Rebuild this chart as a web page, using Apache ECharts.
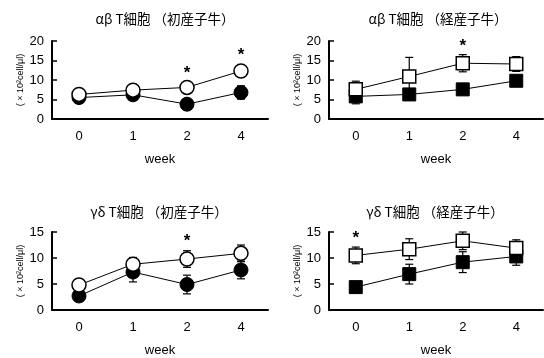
<!DOCTYPE html>
<html><head><meta charset="utf-8">
<script src="https://cdn.jsdelivr.net/npm/echarts@6/dist/echarts.min.js"></script>
<style>html,body{margin:0;padding:0;background:#fff}#c{width:544px;height:358px}</style>
</head><body><div id="c"></div>
<script>
const weeks = ['0', '1', '2', '4'];
const titles = ['αβ T細胞 （初産子牛）', 'αβ T細胞 （経産子牛）', 'γδ T細胞 （初産子牛）', 'γδ T細胞 （経産子牛）'];
const yMax = [20, 20, 15, 15];
const yInterval = 5;
// panel 1: αβ primiparous (circles)
const abPrimOpen = [6.3, 7.4, 8.1, 12.3];
const abPrimOpenSD = [0.5, 0.5, 0.6, 0.9];
const abPrimFilled = [5.5, 6.2, 3.8, 6.8];
const abPrimFilledSD = [0.5, 0.5, 0.6, 1.7];
const abPrimStars = [[2, 12.6], [3, 17.0]];
// panel 2: αβ multiparous (squares)
const abMultOpen = [7.6, 10.9, 14.3, 14.1];
const abMultOpenSD = [2.1, 4.9, 2.2, 1.9];
const abMultFilled = [5.8, 6.3, 7.6, 9.8];
const abMultFilledSD = [1.9, 0.5, 0.5, 0.5];
const abMultStars = [[2, 19.4]];
// panel 3: γδ primiparous (circles)
const gdPrimOpen = [4.8, 8.8, 9.8, 10.9];
const gdPrimOpenSD = [0.5, 1.3, 1.6, 1.6];
const gdPrimFilled = [2.7, 7.3, 4.9, 7.7];
const gdPrimFilledSD = [0.5, 1.9, 1.8, 1.7];
const gdPrimStars = [[2, 13.7]];
// panel 4: γδ multiparous (squares)
const gdMultOpen = [10.5, 11.7, 13.3, 11.9];
const gdMultOpenSD = [1.6, 2.0, 1.7, 1.6];
const gdMultFilled = [4.4, 6.9, 9.2, 10.3];
const gdMultFilledSD = [0.5, 1.9, 2.0, 1.7];
const gdMultStars = [[0, 14.3]];

const panels = [
  {open: abPrimOpen, openSD: abPrimOpenSD, filled: abPrimFilled, filledSD: abPrimFilledSD, stars: abPrimStars, sym: 'circle', size: 14},
  {open: abMultOpen, openSD: abMultOpenSD, filled: abMultFilled, filledSD: abMultFilledSD, stars: abMultStars, sym: 'rect', size: 13},
  {open: gdPrimOpen, openSD: gdPrimOpenSD, filled: gdPrimFilled, filledSD: gdPrimFilledSD, stars: gdPrimStars, sym: 'circle', size: 14},
  {open: gdMultOpen, openSD: gdMultOpenSD, filled: gdMultFilled, filledSD: gdMultFilledSD, stars: gdMultStars, sym: 'rect', size: 13}
];

const grids = [
  {left: 52, width: 216, top: 41, height: 78},
  {left: 329, width: 214, top: 41, height: 78},
  {left: 52, width: 216, top: 232, height: 79},
  {left: 329, width: 214, top: 232, height: 79}
];
const titlePos = [[160, 7], [433, 7], [154, 200], [430, 200]];
const FONT = '"Liberation Sans", Arial, sans-serif';
const CJK = '"Noto Sans CJK JP", sans-serif';

const chart = echarts.init(document.getElementById('c'), null, {renderer: 'canvas'});
const option = {
  animation: false,
  backgroundColor: '#fff',
  title: titles.map((t, i) => ({
    text: t, left: titlePos[i][0], top: titlePos[i][1], textAlign: 'center',
    textStyle: {fontFamily: CJK, fontSize: 13.5, fontWeight: 'normal', color: '#000'}
  })),
  grid: grids,
  xAxis: grids.map((g, i) => ({
    type: 'category', gridIndex: i, data: weeks, boundaryGap: true,
    name: 'week', nameLocation: 'middle', nameGap: 34,
    nameTextStyle: {fontFamily: FONT, fontSize: 13, color: '#000'},
    axisLine: {lineStyle: {color: '#000', width: 2}},
    axisTick: {inside: true, length: 5, lineStyle: {color: '#000', width: 1.5}},
    axisLabel: {fontFamily: FONT, fontSize: 13, color: '#000', margin: 11},
    splitLine: {show: false}
  })),
  yAxis: grids.map((g, i) => ({
    type: 'value', gridIndex: i, min: 0, max: yMax[i], interval: yInterval,
    name: '( × 10²cell/μl)', nameLocation: 'middle', nameRotate: 90, nameGap: 27,
    nameTextStyle: {fontFamily: FONT, fontSize: 9, color: '#000'},
    axisLine: {show: true, lineStyle: {color: '#000', width: 2}},
    axisTick: {show: true, inside: true, length: 5, lineStyle: {color: '#000', width: 1.5}},
    axisLabel: {fontFamily: FONT, fontSize: 13, color: '#000', margin: 8},
    splitLine: {show: false}
  })),
  series: []
};

function errData(vals, sd) {
  return vals.map((v, k) => [k, v - sd[k], v + sd[k]]);
}
function errSeries(i, data) {
  return {
    type: 'custom', xAxisIndex: i, yAxisIndex: i, z: 1, silent: true,
    data: data,
    renderItem: function (params, api) {
      const lo = api.coord([api.value(0), api.value(1)]);
      const hi = api.coord([api.value(0), api.value(2)]);
      const cw = 4;
      const st = {stroke: '#000', lineWidth: 1.2};
      return {type: 'group', children: [
        {type: 'line', shape: {x1: lo[0], y1: lo[1], x2: hi[0], y2: hi[1]}, style: st},
        {type: 'line', shape: {x1: lo[0] - cw, y1: lo[1], x2: lo[0] + cw, y2: lo[1]}, style: st},
        {type: 'line', shape: {x1: hi[0] - cw, y1: hi[1], x2: hi[0] + cw, y2: hi[1]}, style: st}
      ]};
    }
  };
}
function starSeries(i, data) {
  return {
    type: 'custom', xAxisIndex: i, yAxisIndex: i, z: 5, silent: true,
    data: data,
    renderItem: function (params, api) {
      const p = api.coord([api.value(0), api.value(1)]);
      return {type: 'text', x: p[0], y: p[1] + 3, style: {
        text: '*', fontFamily: FONT, fontSize: 17, fontWeight: 'bold', fill: '#000',
        align: 'center', verticalAlign: 'middle'
      }};
    }
  };
}

panels.forEach((p, i) => {
  option.series.push(errSeries(i, errData(p.filled, p.filledSD)));
  option.series.push(errSeries(i, errData(p.open, p.openSD)));
  option.series.push({
    type: 'line', xAxisIndex: i, yAxisIndex: i, z: 3, data: p.filled,
    symbol: p.sym, symbolSize: p.size, showAllSymbol: true,
    lineStyle: {color: '#000', width: 1},
    itemStyle: {color: '#000', borderColor: '#000', borderWidth: 1}
  });
  option.series.push({
    type: 'line', xAxisIndex: i, yAxisIndex: i, z: 4, data: p.open,
    symbol: p.sym, symbolSize: p.size, showAllSymbol: true,
    lineStyle: {color: '#000', width: 1},
    itemStyle: {color: '#fff', borderColor: '#000', borderWidth: 1.5}
  });
  option.series.push(starSeries(i, p.stars));
});

chart.setOption(option);
</script>
</body></html>
